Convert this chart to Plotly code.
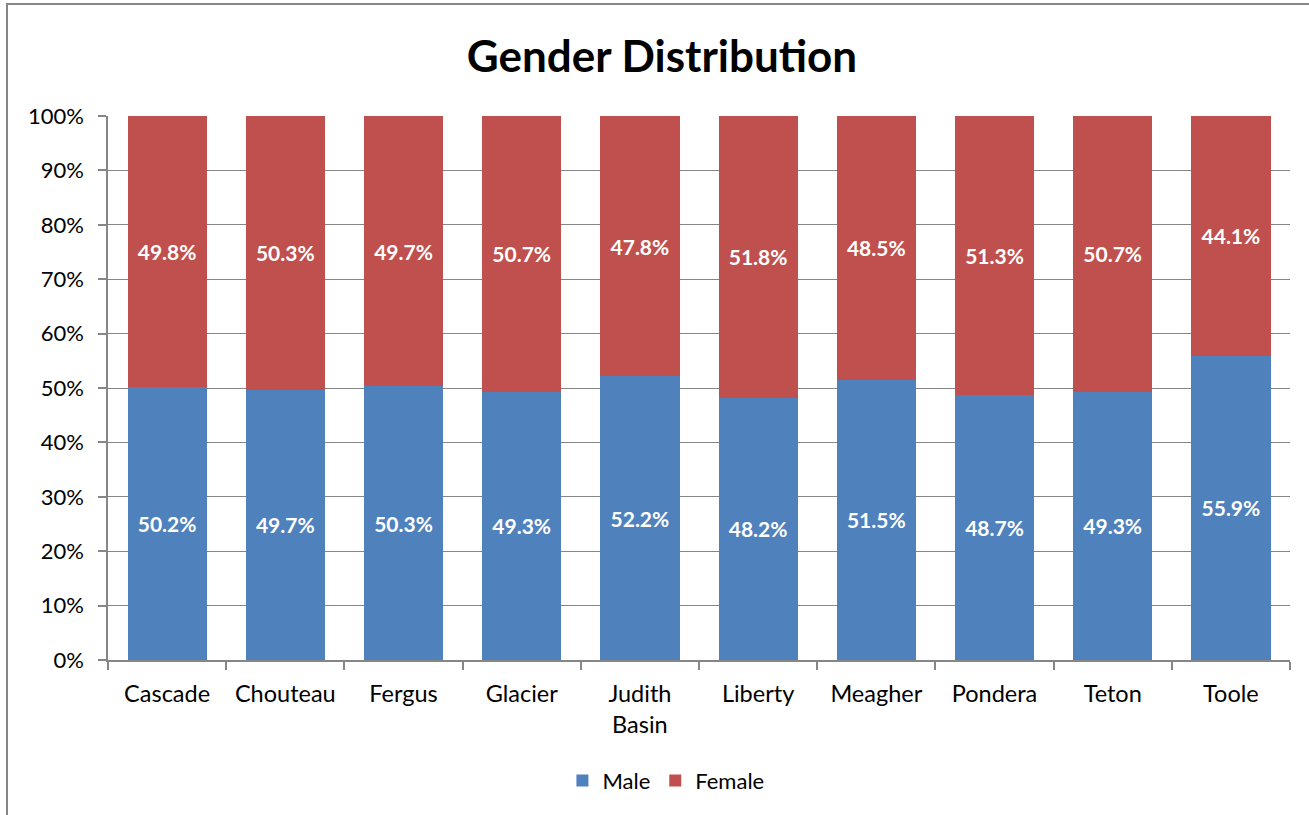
import plotly.graph_objects as go

counties = ["Cascade", "Chouteau", "Fergus", "Glacier", "Judith<br>Basin",
            "Liberty", "Meagher", "Pondera", "Teton", "Toole"]
male = [50.2, 49.7, 50.3, 49.3, 52.2, 48.2, 51.5, 48.7, 49.3, 55.9]
female = [49.8, 50.3, 49.7, 50.7, 47.8, 51.8, 48.5, 51.3, 50.7, 44.1]
y_ticks = list(range(0, 101, 10))

FONT = "Lato, Calibri, sans-serif"
GRAY = "#868686"

fig = go.Figure()
for name, vals, col in [("Male", male, "#4F81BD"), ("Female", female, "#C0504D")]:
    fig.add_trace(go.Bar(
        x=counties, y=vals, name=name, marker=dict(color=col, line=dict(width=0)),
        text=[f"{v:.1f}%" for v in vals], textposition="inside", insidetextanchor="middle",
        textfont=dict(family=FONT, size=21, color="white", weight="bold"),
        textangle=0,
    ))

fig.update_layout(
    barmode="stack",
    bargap=0.33,
    width=1309, height=815,
    margin=dict(l=108, r=19, t=116, b=155),
    paper_bgcolor="white", plot_bgcolor="white",
    font=dict(family=FONT, size=22, color="black"),
    title=dict(text="<b>Gender Distribution</b>", x=662 / 1309, xanchor="center",
               y=1 - 57 / 815, yanchor="middle",
               font=dict(family=FONT, size=44, color="black")),
    legend=dict(orientation="h", x=0.472, xanchor="center", y=-0.222, yanchor="middle",
                font=dict(family=FONT, size=22), traceorder="normal"),
    showlegend=True,
    uniformtext=dict(mode="show", minsize=10),
)
fig.update_xaxes(
    showline=True, linecolor=GRAY, linewidth=1.5,
    ticks="outside", tickson="boundaries", ticklen=8, tickcolor=GRAY, tickwidth=1.5,
    tickfont=dict(family=FONT, size=23.5, color="black"),
    ticklabelstandoff=12,
    showgrid=False,
)
fig.update_yaxes(
    range=[0, 100], tickvals=y_ticks, ticktext=[f"{t}%" for t in y_ticks],
    showline=True, linecolor=GRAY, linewidth=1.5,
    ticks="outside", ticklen=8, tickcolor=GRAY, tickwidth=1.5,
    showgrid=True, gridcolor=GRAY, gridwidth=1,
    tickfont=dict(family=FONT, size=22, color="black"),
    ticklabelstandoff=10,
    zeroline=False,
)
# outer chart frame (only left/top edges fall inside the image)
fig.add_shape(type="rect", xref="paper", yref="paper",
              x0=(7 - 108) / 1182, x1=1.2, y0=-0.5, y1=(660 - 4) / 544,
              line=dict(color=GRAY, width=2), fillcolor="rgba(0,0,0,0)", layer="below")

fig.write_html("out.html", config={"displayModeBar": False},
               post_script="document.body.style.margin='0';")
